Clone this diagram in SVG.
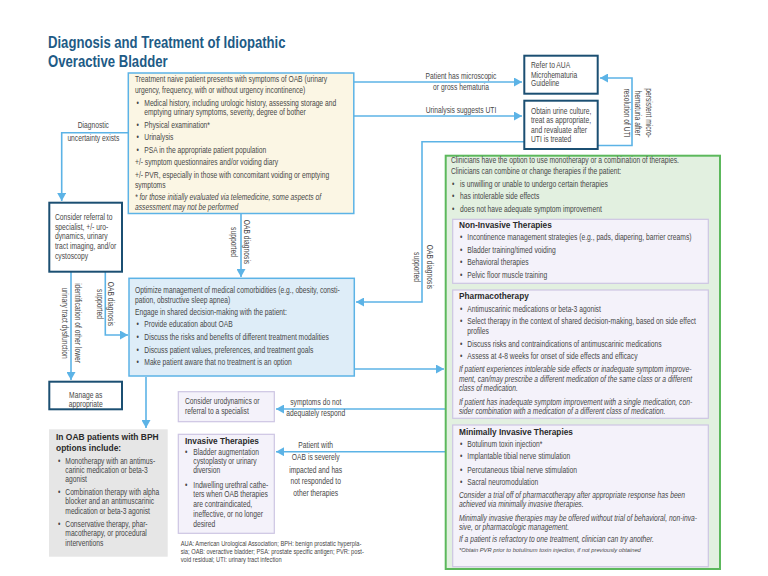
<svg xmlns="http://www.w3.org/2000/svg" width="768" height="576" viewBox="0 0 768 576">
<style>
text{font-family:"Liberation Sans",Arial,sans-serif;fill:#474747;font-size:8.2px;transform-box:fill-box;transform-origin:0 50%;transform:scaleX(0.82)}
.c{text-anchor:middle;transform-origin:50% 50%}
.i{font-style:italic}
.h{font-weight:bold;font-size:8.8px;fill:#2a2a2a;transform:scaleX(0.94)}
.hb{font-weight:bold;font-size:9.6px;fill:#2a2a2a;transform:scaleX(0.88)}
.ttl{font-weight:bold;font-size:16px;fill:#1e5b86;transform:scaleX(0.82)}
.fn{font-size:7px}
.sm{font-size:6.2px;transform:scaleX(0.93)}
.ln{fill:none;stroke:#5cb3e6;stroke-width:1.6}
.nv{fill:#fff;stroke:#1b4f72;stroke-width:2}
.pu{fill:#f4f2fa;stroke:#cdc5e3;stroke-width:1.2}
</style>
<defs>
<marker id="ah" markerUnits="userSpaceOnUse" markerWidth="9" markerHeight="9" refX="8" refY="4.5" orient="auto">
<path d="M0,0 L8,4.5 L0,9 z" fill="#5cb3e6"/>
</marker>
</defs>
<rect width="768" height="576" fill="#fff"/>
<g id="title">
<text class="ttl" x="48" y="48.5">Diagnosis and Treatment of Idiopathic</text>
<text class="ttl" x="48" y="67">Overactive Bladder</text>
</g>
<g id="connectors">
<path class="ln" d="M354,82 H522" marker-end="url(#ah)"/>
<path class="ln" d="M354,116 H522" marker-end="url(#ah)"/>
<path class="ln" d="M598,145.5 H632 V78 H600" marker-end="url(#ah)"/>
<path class="ln" d="M524,141.7 H422 V302 H356" marker-end="url(#ah)"/>
<path class="ln" d="M241,214 V277" marker-end="url(#ah)"/>
<path class="ln" d="M128,132.7 H61.7 V201" marker-end="url(#ah)"/>
<path class="ln" d="M71,272 V380" marker-end="url(#ah)"/>
<path class="ln" d="M105.3,272 V335 H128" marker-end="url(#ah)"/>
<path class="ln" d="M146,377 V428" marker-end="url(#ah)"/>
<path class="ln" d="M354,369 H444" marker-end="url(#ah)"/>
<path class="ln" d="M445,409 H276" marker-end="url(#ah)"/>
<path class="ln" d="M445,451.7 H276" marker-end="url(#ah)"/>
<text class="c" x="461" y="78.7">Patient has microscopic</text>
<text class="c" x="461" y="90.4">or gross hematuria</text>
<text class="c" x="461" y="113">Urinalysis suggests UTI</text>
<g transform="translate(649,113) rotate(90)"><text class="c" x="0" y="2.8">persistent micro-</text></g>
<g transform="translate(638,113) rotate(90)"><text class="c" x="0" y="2.8">hematuria after</text></g>
<g transform="translate(627,113) rotate(90)"><text class="c" x="0" y="2.8">resolution of UTI</text></g>
<g transform="translate(247.3,242) rotate(90)"><text class="c" x="0" y="2.8">OAB diagnosis</text></g>
<g transform="translate(234.3,242) rotate(90)"><text class="c" x="0" y="2.8">supported</text></g>
<g transform="translate(430,267) rotate(90)"><text class="c" x="0" y="2.8">OAB diagnosis</text></g>
<g transform="translate(417,267) rotate(90)"><text class="c" x="0" y="2.8">supported</text></g>
<g transform="translate(77.7,323) rotate(90)"><text class="c" x="0" y="2.8">identification of other lower</text></g>
<g transform="translate(65,323) rotate(90)"><text class="c" x="0" y="2.8">urinary tract dysfunction</text></g>
<g transform="translate(111,304) rotate(90)"><text class="c" x="0" y="2.8">OAB diagnosis</text></g>
<g transform="translate(100,304) rotate(90)"><text class="c" x="0" y="2.8">supported</text></g>
<text class="c" x="93.3" y="127.7">Diagnostic</text>
<text class="c" x="93.3" y="141">uncertainty exists</text>
<text class="c" x="315.7" y="405.4">symptoms do not</text>
<text class="c" x="315.7" y="416">adequately respond</text>
<text class="c" x="315.7" y="447.7">Patient with</text>
<text class="c" x="315.7" y="460">OAB is severely</text>
<text class="c" x="315.7" y="472.7">impacted and has</text>
<text class="c" x="315.7" y="483.7">not responded to</text>
<text class="c" x="315.7" y="496">other therapies</text>
</g>
<g id="presentation">
<rect x="128.3" y="73" width="225.5" height="140.5" fill="#fbf6e4" stroke="#5cb3e6" stroke-width="1.5"/>
<text x="135" y="82">Treatment naive patient presents with symptoms of OAB (urinary</text>
<text x="135" y="92.7">urgency, frequency, with or without urgency incontinence)</text>
<text x="136.5" y="106">•</text><text x="144.3" y="106">Medical history, including urologic history, assessing storage and</text>
<text x="144.3" y="115">emptying urinary symptoms, severity, degree of bother</text>
<text x="136.5" y="127.7">•</text><text x="144.3" y="127.7">Physical examination*</text>
<text x="136.5" y="139.7">•</text><text x="144.3" y="139.7">Urinalysis</text>
<text x="136.5" y="152.7">•</text><text x="144.3" y="152.7">PSA in the appropriate patient population</text>
<text x="135" y="165.4">+/-  symptom questionnaires and/or voiding diary</text>
<text x="135" y="178">+/- PVR, especially in those with concomitant voiding or emptying</text>
<text x="135" y="188.4">symptoms</text>
<text class="i" x="135" y="200">* for those initially evaluated via telemedicine, some aspects of</text>
<text class="i" x="135" y="209.7">assessment may not be performed</text>
</g>
<g id="refer-aua">
<rect class="nv" x="524.3" y="55.7" width="73.4" height="38"/>
<text x="531" y="67.7">Refer to AUA</text>
<text x="531" y="77.7">Microhematuria</text>
<text x="531" y="86.4">Guideline</text>
</g>
<g id="urine-culture">
<rect class="nv" x="524.3" y="100.7" width="73.4" height="48.3"/>
<text x="531" y="113.7">Obtain urine culture,</text>
<text x="531" y="123.4">treat as appropriate,</text>
<text x="531" y="132.7">and revaluate after</text>
<text x="531" y="141.7">UTI is treated</text>
</g>
<g id="referral">
<rect class="nv" x="49.3" y="202.7" width="72.7" height="69"/>
<text x="55" y="220">Consider referral to</text>
<text x="55" y="229.7">specialist, +/- uro-</text>
<text x="55" y="239.4">dynamics, urinary</text>
<text x="55" y="249.1">tract imaging, and/or</text>
<text x="55" y="258.8">cystoscopy</text>
</g>
<g id="manage">
<rect class="nv" x="49.3" y="381.7" width="72.7" height="27.6"/>
<text class="c" x="85.7" y="397.7">Manage as</text>
<text class="c" x="85.7" y="406.7">appropriate</text>
</g>
<g id="optimize">
<rect x="129" y="278.3" width="225.3" height="97.7" fill="#deedf8" stroke="#5cb3e6" stroke-width="1.5"/>
<text x="135" y="292.7">Optimize management of medical comorbidities (e.g., obesity, consti-</text>
<text x="135" y="302.7">pation, obstructive sleep apnea)</text>
<text x="135" y="315.4">Engage in shared decision-making with the patient:</text>
<text x="136.5" y="327">•</text><text x="144.3" y="327">Provide education about OAB</text>
<text x="136.5" y="340.4">•</text><text x="144.3" y="340.4">Discuss the risks and benefits of different treatment modalities</text>
<text x="136.5" y="352.7">•</text><text x="144.3" y="352.7">Discuss patient values, preferences, and treatment goals</text>
<text x="136.5" y="365.4">•</text><text x="144.3" y="365.4">Make patient aware that no treatment is an option</text>
</g>
<g id="bph">
<rect x="49" y="429.3" width="118.7" height="127.4" fill="#e6e6e6"/>
<text class="hb" x="56" y="440">In OAB patients with BPH</text>
<text class="hb" x="56" y="451">options include:</text>
<text x="58" y="463.7">•</text><text x="65.3" y="463.7">Monotherapy with an antimus-</text>
<text x="65.3" y="472.9">carinic medication or beta-3</text>
<text x="65.3" y="482.2">agonist</text>
<text x="58" y="495">•</text><text x="65.3" y="495">Combination therapy with alpha</text>
<text x="65.3" y="504.4">blocker and an antimuscarinic</text>
<text x="65.3" y="513.7">medication or beta-3 agonist</text>
<text x="58" y="526.7">•</text><text x="65.3" y="526.7">Conservative therapy, phar-</text>
<text x="65.3" y="536.4">macotherapy, or procedural</text>
<text x="65.3" y="546">interventions</text>
</g>
<g id="urodynamics">
<rect class="pu" x="178.3" y="391.7" width="96" height="30"/>
<text x="185" y="404.4">Consider urodynamics or</text>
<text x="185" y="414.4">referral to a specialist</text>
</g>
<g id="invasive">
<rect class="pu" x="178.3" y="434.3" width="96" height="99"/>
<text class="h" x="185" y="444.2">Invasive Therapies</text>
<text x="185" y="455.2">•</text><text x="193.3" y="455.2">Bladder augmentation</text>
<text x="193.3" y="464.2">cystoplasty or urinary</text>
<text x="193.3" y="473.4">diversion</text>
<text x="185" y="487.7">•</text><text x="193.3" y="487.7">Indwelling urethral cathe-</text>
<text x="193.3" y="496.9">ters when OAB therapies</text>
<text x="193.3" y="506.6">are contraindicated,</text>
<text x="193.3" y="517">ineffective, or no longer</text>
<text x="193.3" y="526.7">desired</text>
</g>
<g id="abbreviations">
<text class="fn" x="180.7" y="546.3">AUA: American Urological Association; BPH: benign prostatic hyperpla-</text>
<text class="fn" x="180.7" y="554.3">sia; OAB: overactive bladder; PSA: prostate specific antigen; PVR: post-</text>
<text class="fn" x="180.7" y="562">void residual; UTI: urinary tract infection</text>
</g>
<g id="therapies">
<rect x="445.7" y="155.7" width="274.3" height="413.3" fill="#e2f0e0" stroke="#5cb85c" stroke-width="2"/>
<text x="451" y="163.4">Clinicians have the option to use monotherapy or a combination of therapies.</text>
<text x="451" y="173.7">Clinicians can combine or change therapies if the patient:</text>
<text x="452" y="186.7">•</text><text x="460" y="186.7">is unwilling or unable to undergo certain therapies</text>
<text x="452" y="198.7">•</text><text x="460" y="198.7">has intolerable side effects</text>
<text x="452" y="212">•</text><text x="460" y="212">does not have adequate symptom improvement</text>
</g>
<g id="non-invasive">
<rect class="pu" x="452.7" y="219.3" width="255.6" height="64"/>
<text class="h" x="459" y="228">Non-Invasive Therapies</text>
<text x="460" y="240.4">•</text><text x="467.3" y="240.4">Incontinence management strategies (e.g., pads, diapering, barrier creams)</text>
<text x="460" y="252.7">•</text><text x="467.3" y="252.7">Bladder training/timed voiding</text>
<text x="460" y="265.4">•</text><text x="467.3" y="265.4">Behavioral therapies</text>
<text x="460" y="278.4">•</text><text x="467.3" y="278.4">Pelvic floor muscle training</text>
</g>
<g id="pharmacotherapy">
<rect class="pu" x="452.7" y="290" width="255.6" height="128.3"/>
<text class="h" x="459" y="299">Pharmacotherapy</text>
<text x="460" y="312">•</text><text x="467.3" y="312">Antimuscarinic medications or beta-3 agonist</text>
<text x="460" y="323.7">•</text><text x="467.3" y="323.7">Select therapy in the context of shared decision-making, based on side effect</text>
<text x="467.3" y="333.7">profiles</text>
<text x="460" y="347">•</text><text x="467.3" y="347">Discuss risks and contraindications of antimuscarinic medications</text>
<text x="460" y="358.7">•</text><text x="467.3" y="358.7">Assess at 4-8 weeks for onset of side effects and efficacy</text>
<text class="i" x="459" y="372">If patient experiences intolerable side effects or inadequate symptom improve-</text>
<text class="i" x="459" y="381.7">ment, can/may prescribe a different medication of the same class or a different</text>
<text class="i" x="459" y="391">class of medication.</text>
<text class="i" x="459" y="405">If patient has inadequate symptom improvement with a single medication, con-</text>
<text class="i" x="459" y="413.7">sider combination with a medication of a different class of medication.</text>
</g>
<g id="minimally-invasive">
<rect class="pu" x="452.7" y="425" width="255.6" height="141.7"/>
<text class="h" x="459" y="434.7">Minimally Invasive Therapies</text>
<text x="460" y="446.7">•</text><text x="467.3" y="446.7">Botulinum toxin injection*</text>
<text x="460" y="459.4">•</text><text x="467.3" y="459.4">Implantable tibial nerve stimulation</text>
<text x="460" y="472.7">•</text><text x="467.3" y="472.7">Percutaneous tibial nerve stimulation</text>
<text x="460" y="485">•</text><text x="467.3" y="485">Sacral neuromodulation</text>
<text class="i" x="459" y="497.7">Consider a trial off of pharmacotherapy after appropriate response has been</text>
<text class="i" x="459" y="507">achieved via minimally invasive therapies.</text>
<text class="i" x="459" y="521">Minimally invasive therapies may be offered without trial of behavioral, non-inva-</text>
<text class="i" x="459" y="530.4">sive, or pharmacologic management.</text>
<text class="i" x="459" y="542">If a patient is refractory to one treatment, clinician can try another.</text>
<text class="i sm" x="459" y="552.5">*Obtain PVR prior to botulinum toxin injection, if not previously obtained</text>
</g>
</svg>
